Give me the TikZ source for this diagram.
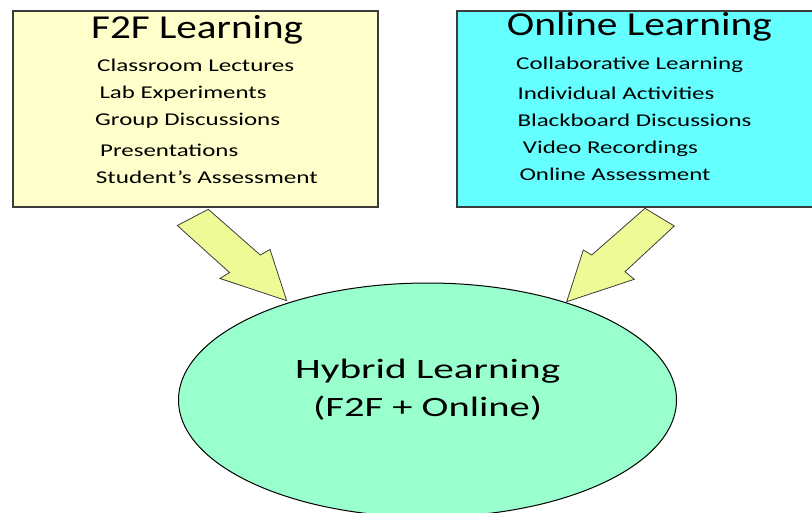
\documentclass[tikz,border=0pt]{standalone}
\usetikzlibrary{shapes.geometric}
\usepackage{fontspec}
\setmainfont{Carlito}
\usepackage{graphicx}
\definecolor{f2fcol}{RGB}{255,255,204}
\definecolor{onlinecol}{RGB}{102,255,255}
\definecolor{hybridcol}{RGB}{153,255,204}
\definecolor{arrowcol}{RGB}{238,250,150}
\definecolor{edgecol}{RGB}{60,60,60}
\newcommand\stretchto[2]{\resizebox{#1}{\height}{#2}}
\tikzset{
  panel/.style={rectangle, draw=edgecol, line width=1.1pt, inner sep=0pt},
  titletext/.style={anchor=base west, inner sep=0pt, font=\fontsize{33.5}{33.5}\selectfont},
  itemtext/.style={anchor=base west, inner sep=0pt, font=\fontsize{18}{18}\selectfont},
  hybtext/.style={anchor=base west, inner sep=0pt, font=\fontsize{28}{28}\selectfont},
  blockarrow/.style={draw=edgecol, line width=0.8pt, fill=arrowcol, line join=miter}
}
\begin{document}
\begin{tikzpicture}[x=1pt,y=-1pt]
\useasboundingbox (0,0) rectangle (812,512);
% boxes
\node[panel, fill=f2fcol, minimum width=365pt, minimum height=196pt] (f2f) at (195.5,109) {};
\node[panel, fill=onlinecol, minimum width=373pt, minimum height=196pt] (online) at (643.5,109) {};
\node[ellipse, draw=black, line width=1pt, fill=hybridcol, minimum width=498pt, minimum height=234pt, inner sep=0pt] (hybrid) at (427.5,400) {};
% F2F texts
\node[titletext] (t1) at (91,38.3) {\stretchto{212pt}{F2F Learning}};
\node[itemtext] (a1) at (97,71.5) {\stretchto{197pt}{Classroom Lectures}};
\node[itemtext] (a2) at (99.3,98.3) {\stretchto{167pt}{Lab Experiments}};
\node[itemtext] (a3) at (95,125.5) {\stretchto{185pt}{Group Discussions}};
\node[itemtext] (a4) at (100,156) {\stretchto{138pt}{Presentations}};
\node[itemtext] (a5) at (95.7,183) {\stretchto{222pt}{Student’s Assessment}};
% Online texts
\node[titletext] (t2) at (506.7,35) {\stretchto{265pt}{Online Learning}};
\node[itemtext] (b1) at (516,69) {\stretchto{227pt}{Collaborative Learning}};
\node[itemtext] (b2) at (517.3,99) {\stretchto{197pt}{Individual Activities}};
\node[itemtext] (b3) at (517.3,126) {\stretchto{234pt}{Blackboard Discussions}};
\node[itemtext] (b4) at (522.7,153.3) {\stretchto{175pt}{Video Recordings}};
\node[itemtext] (b5) at (519.3,180) {\stretchto{191pt}{Online Assessment}};
% Hybrid texts
\node[hybtext] (h1) at (295,378) {\stretchto{265pt}{Hybrid Learning}};
\node[hybtext] (h2) at (313,416.7) {\stretchto{229pt}{(F2F + Online)}};
% block arrows
\draw[blockarrow] (208.3,209.3) -- (260.3,255) -- (270,249.5) -- (286.7,300.7) -- (220,278.5) -- (229.5,272.5) -- (177.3,225.5) -- cycle;
\draw[blockarrow] (645,208.3) -- (674.3,226) -- (625,271.7) -- (634.3,279.3) -- (566.7,301.7) -- (583.3,250) -- (591.7,255) -- cycle;
\end{tikzpicture}
\end{document}
